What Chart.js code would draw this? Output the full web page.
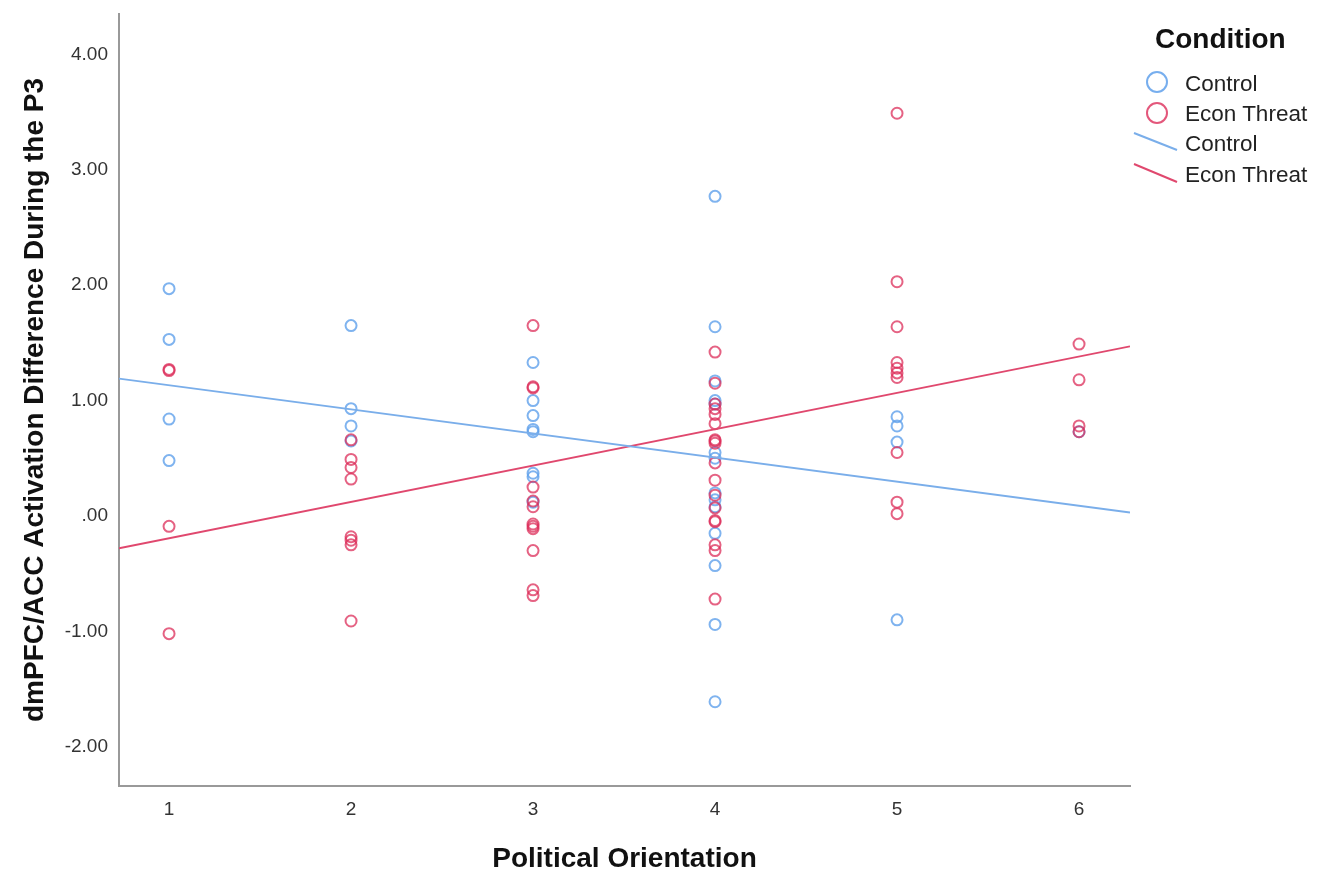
<!DOCTYPE html>
<html>
<head>
<meta charset="utf-8">
<script src="https://cdn.jsdelivr.net/npm/chart.js@4/dist/chart.umd.min.js"></script>
<style>
    html, body { margin: 0; padding: 0; background: #fff; }
    #wrap { position: relative; width: 1323px; height: 873px; }
    #legend { position: absolute; left: 1130px; top: 0; width: 193px; font-family: "Liberation Sans", Arial, sans-serif; color: #222; }
    #legend .title { position: absolute; left: 25px; top: 23px; font-size: 28px; font-weight: bold; color: #111; white-space: nowrap; }
    #legend .item { position: absolute; left: 55px; font-size: 22.5px; white-space: nowrap; }
    #legend svg { position: absolute; left: 0; top: 0; }
</style>
</head>
<body>
<div id="wrap">
    <canvas id="scatter" width="1323" height="873"></canvas>
    <div id="legend">
        <svg width="193" height="200">
            <circle cx="27" cy="82" r="10" fill="none" stroke="rgba(95,160,235,0.85)" stroke-width="2"/>
            <circle cx="27" cy="113" r="10" fill="none" stroke="rgba(220,45,90,0.8)" stroke-width="2"/>
            <line x1="4" y1="133" x2="47" y2="150" stroke="#7aaeea" stroke-width="2"/>
            <line x1="4" y1="164" x2="47" y2="182" stroke="#e0486e" stroke-width="2"/>
        </svg>
        <div class="title">Condition</div>
        <div class="item" style="top:71px">Control</div>
        <div class="item" style="top:101px">Econ Threat</div>
        <div class="item" style="top:131px">Control</div>
        <div class="item" style="top:162px">Econ Threat</div>
    </div>
</div>
<script>
// --- Data ---
const xTicks = [1, 2, 3, 4, 5, 6];
const yTicks = [-2, -1, 0, 1, 2, 3, 4];

const controlX = [1, 1, 1, 1,
    2, 2, 2, 2,
    3, 3, 3, 3, 3, 3, 3, 3,
    4, 4, 4, 4, 4, 4, 4, 4, 4, 4, 4, 4, 4, 4,
    5, 5, 5, 5,
    6];
const controlY = [1.97, 1.53, 0.84, 0.48,
    1.65, 0.93, 0.78, 0.65,
    1.33, 1.00, 0.87, 0.75, 0.73, 0.37, 0.34, 0.12,
    2.77, 1.64, 1.17, 1.00, 0.97, 0.55, 0.50, 0.20, 0.14, 0.08, -0.15, -0.43, -0.94, -1.61,
    0.86, 0.78, 0.64, -0.90,
    0.73];

const threatX = [1, 1, 1, 1,
    2, 2, 2, 2, 2, 2, 2, 2,
    3, 3, 3, 3, 3, 3, 3, 3, 3, 3, 3, 3,
    4, 4, 4, 4, 4, 4, 4, 4, 4, 4, 4, 4, 4, 4, 4, 4, 4, 4,
    5, 5, 5, 5, 5, 5, 5, 5, 5, 5,
    6, 6, 6, 6];
const threatY = [1.27, 1.26, -0.09, -1.02,
    0.66, 0.49, 0.42, 0.32, -0.18, -0.21, -0.25, -0.91,
    1.65, 1.12, 1.11, 0.25, 0.13, 0.08, -0.07, -0.09, -0.11, -0.30, -0.64, -0.69,
    1.42, 1.15, 0.97, 0.93, 0.88, 0.80, 0.66, 0.65, 0.63, 0.46, 0.31, 0.18, 0.07, -0.04, -0.05, -0.25, -0.30, -0.72,
    3.49, 2.03, 1.64, 1.33, 1.28, 1.24, 1.20, 0.55, 0.12, 0.02,
    1.49, 1.18, 0.78, 0.73];

// fit lines, read at the left and right edges of the plot
const fitX = [0.725, 6.28];
const controlFit = [1.19, 0.03];
const threatFit = [-0.28, 1.47];

const X_MIN = 0.725, X_MAX = 6.28;
const Y_MIN = -2.34, Y_MAX = 4.35;

const BLUE = 'rgba(95, 160, 235, 0.8)';
const RED = 'rgba(220, 45, 90, 0.75)';

const pairs = (xs, ys) => xs.map((x, i) => ({ x: x, y: ys[i] }));

const font = 'Liberation Sans';

new Chart(document.getElementById('scatter'), {
    type: 'scatter',
    data: {
        datasets: [
            {
                label: 'Control',
                data: pairs(controlX, controlY),
                pointStyle: 'circle',
                pointRadius: 5.5,
                pointBorderWidth: 2,
                borderColor: BLUE,
                backgroundColor: 'rgba(0,0,0,0)',
                order: 2
            },
            {
                label: 'Econ Threat',
                data: pairs(threatX, threatY),
                pointStyle: 'circle',
                pointRadius: 5.5,
                pointBorderWidth: 2,
                borderColor: RED,
                backgroundColor: 'rgba(0,0,0,0)',
                order: 1
            },
            {
                type: 'line',
                label: 'Control fit',
                data: pairs(fitX, controlFit),
                borderColor: '#7aaeea',
                borderWidth: 1.8,
                pointRadius: 0,
                fill: false,
                order: 0
            },
            {
                type: 'line',
                label: 'Econ Threat fit',
                data: pairs(fitX, threatFit),
                borderColor: '#e0486e',
                borderWidth: 1.8,
                pointRadius: 0,
                fill: false,
                order: 0
            }
        ]
    },
    options: {
        responsive: false,
        animation: false,
        events: [],
        layout: { padding: { top: 14, right: 193, bottom: 0, left: 0 } },
        plugins: { legend: { display: false }, tooltip: { enabled: false } },
        scales: {
            x: {
                type: 'linear',
                min: X_MIN, max: X_MAX,
                afterBuildTicks: s => { s.ticks = xTicks.map(v => ({ value: v })); },
                afterFit: s => { s.height = 87; s.paddingLeft = 0; s.paddingRight = 0; },
                grid: { display: false, drawTicks: false },
                border: { display: true, color: '#999', width: 2 },
                ticks: {
                    padding: 12,
                    color: '#333',
                    font: { family: font, size: 19 },
                    callback: v => String(v)
                },
                title: {
                    display: true,
                    text: 'Political Orientation',
                    color: '#111',
                    font: { family: font, size: 28, weight: 'bold' },
                    padding: { top: 0, bottom: -3 }
                }
            },
            y: {
                type: 'linear',
                min: Y_MIN, max: Y_MAX,
                afterBuildTicks: s => { s.ticks = yTicks.map(v => ({ value: v })); },
                afterFit: s => { s.width = 119; s.paddingTop = 0; s.paddingBottom = 0; },
                grid: { display: false, drawTicks: false },
                border: { display: true, color: '#999', width: 2 },
                ticks: {
                    padding: 11,
                    color: '#333',
                    font: { family: font, size: 19 },
                    callback: v => v === 0 ? '.00' : v.toFixed(2)
                },
                title: {
                    display: true,
                    text: 'dmPFC/ACC Activation Difference During the P3',
                    color: '#111',
                    font: { family: font, size: 28, weight: 'bold' },
                    padding: { top: 18, bottom: 0 }
                }
            }
        }
    }
});
</script>
</body>
</html>
